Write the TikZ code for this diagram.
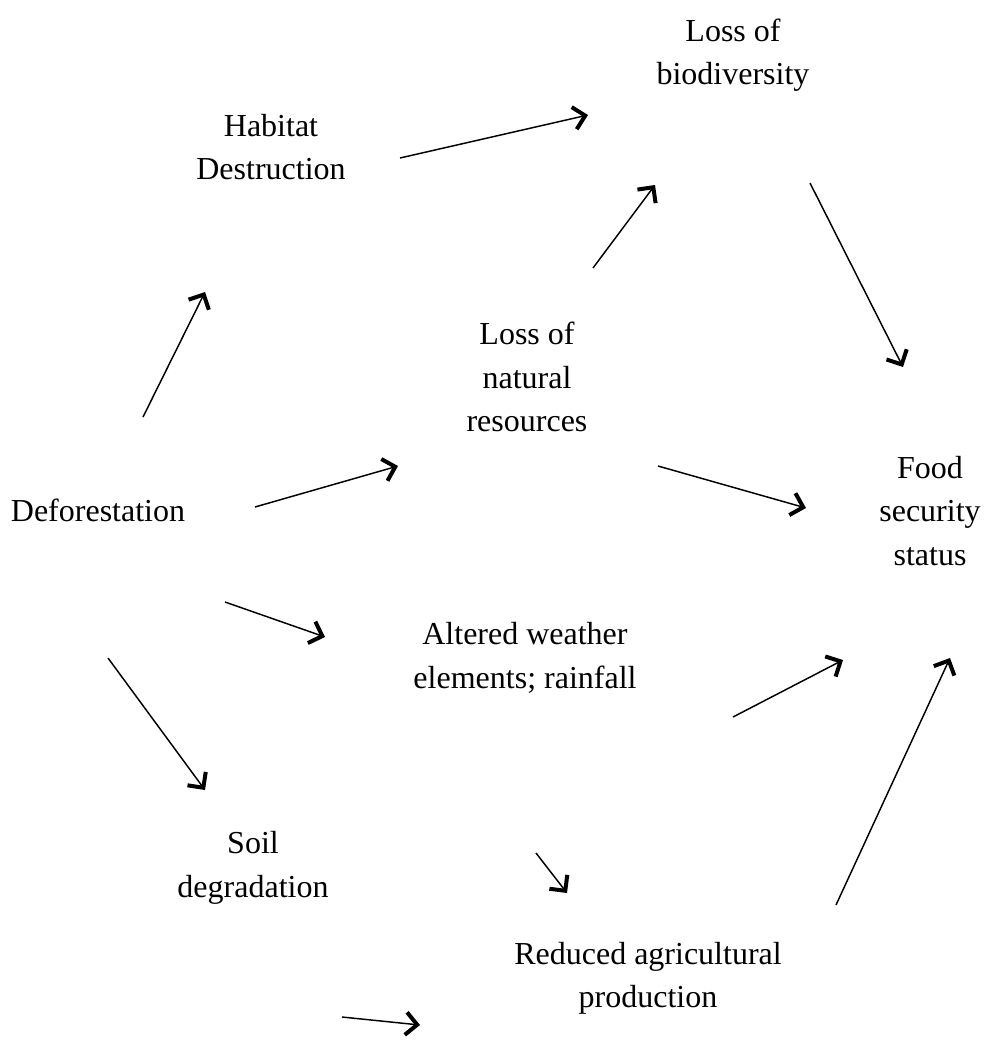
\documentclass[tikz,border=0pt]{standalone}
\usepackage{fontspec}
\setmainfont{Liberation Serif}
\usetikzlibrary{arrows.meta, positioning}

\begin{document}
\begin{tikzpicture}[
  x=0.75pt, y=-0.75pt,
  label/.style={align=center, inner sep=0pt,
               font=\fontsize{24pt}{32.5pt}\selectfont},
  arrow/.style={-{Straight Barb[length=8.5pt, width=17pt, line width=3pt]},
               line width=1.1pt, color=black}
]
\useasboundingbox (0,0) rectangle (989,1047);

\node[label] (bio)  at (733,55)  {Loss of\\biodiversity};
\node[label] (hab)  at (271,147) {Habitat\\Destruction};
\node[label] (nat)  at (527,377) {Loss of\\natural\\resources};
\node[label] (def)  at (98,510)  {Deforestation};
\node[label] (food) at (930,511) {Food\\security\\status};
\node[label] (wea)  at (525,658) {Altered weather\\elements; rainfall};
\node[label] (soil) at (253,868) {Soil\\degradation};
\node[label] (red)  at (648,978) {Reduced agricultural\\production};

\draw[arrow] ([shift={(129,11)}]hab.center) -- ([shift={(-145,60)}]bio.center);
\draw[arrow] ([shift={(66,-109)}]nat.center) -- ([shift={(-78,130)}]bio.center);
\draw[arrow] ([shift={(77,128)}]bio.center) -- ([shift={(-27,-144)}]food.center);
\draw[arrow] ([shift={(45,-93)}]def.center) -- ([shift={(-66,145)}]hab.center);
\draw[arrow] ([shift={(157,-3)}]def.center) -- ([shift={(-129,89)}]nat.center);
\draw[arrow] ([shift={(131,89)}]nat.center) -- ([shift={(-124,-3)}]food.center);
\draw[arrow] ([shift={(127,92)}]def.center) -- ([shift={(-200,-21)}]wea.center);
\draw[arrow] ([shift={(10,148)}]def.center) -- ([shift={(-48,-78)}]soil.center);
\draw[arrow] ([shift={(208,59)}]wea.center) -- ([shift={(-87,149)}]food.center);
\draw[arrow] ([shift={(11,195)}]wea.center) -- ([shift={(-81,-85)}]red.center);
\draw[arrow] ([shift={(89,149)}]soil.center) -- ([shift={(-228,47)}]red.center);
\draw[arrow] ([shift={(188,-73)}]red.center) -- ([shift={(20,147)}]food.center);
\end{tikzpicture}
\end{document}
